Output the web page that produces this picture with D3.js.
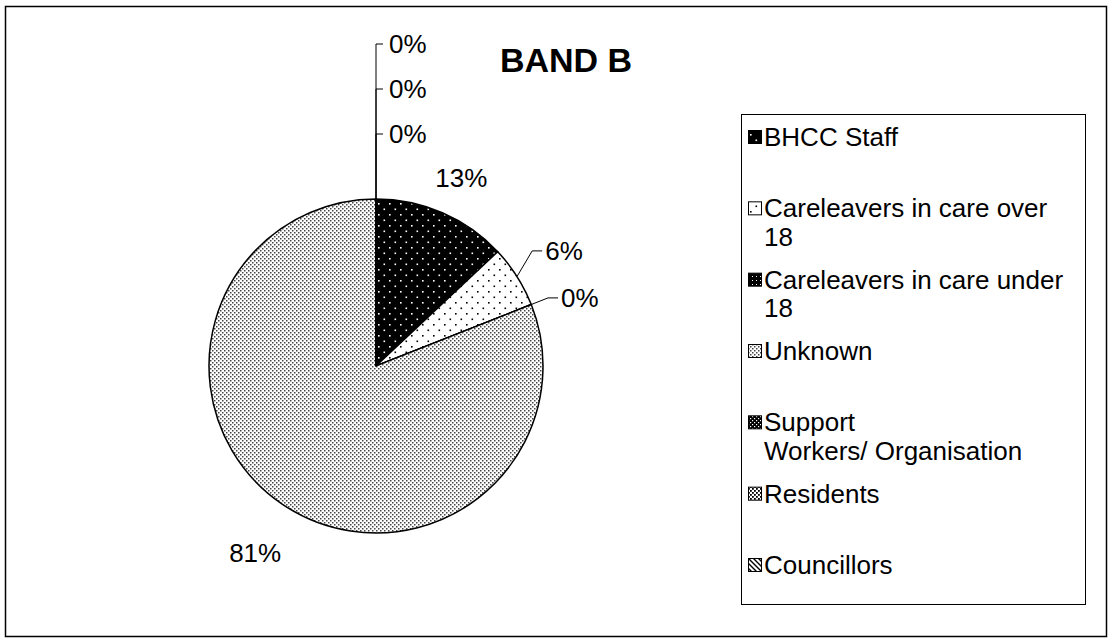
<!DOCTYPE html>
<html>
<head>
<meta charset="utf-8">
<script src="https://cdn.jsdelivr.net/npm/d3@7"></script>
<style>
  body { margin: 0; background: #fff; }
  text { font-family: "Liberation Sans", Arial, sans-serif; fill: #000; }
</style>
</head>
<body>
<div id="band-b-pie"></div>
<script>
var categories = ['BHCC Staff', 'Careleavers in care over 18', 'Careleavers in care under 18',
                  'Unknown', 'Support\nWorkers/ Organisation', 'Residents', 'Councillors'];
var percents = [13, 6, 0, 81, 0, 0, 0];
var patternIds = ['p-bhcc', 'p-over18', 'p-under18', 'p-unknown', 'p-support', 'p-residents', 'p-councillors'];
var chartTitle = 'BAND B';

var w = 1114,
    h = 644,
    cx = 376, cy = 366, r = 167;

var svg = d3.select('#band-b-pie').append('svg')
    .attr('width', w)
    .attr('height', h);

// fill patterns (black & white, like the original)
var defs = svg.append('defs');
var makePattern = function (id, size, bg, draw) {
  var p = defs.append('pattern')
      .attr('id', id)
      .attr('patternUnits', 'userSpaceOnUse')
      .attr('width', size)
      .attr('height', size);
  p.append('rect').attr('width', size).attr('height', size).attr('fill', bg);
  draw(p);
};
var dots = function (p, pts, rad, col) {
  pts.forEach(function (d) {
    p.append('rect').attr('x', d[0]).attr('y', d[1])
      .attr('width', rad).attr('height', rad).attr('fill', col);
  });
};
makePattern('p-bhcc', 11, '#000', function (p) { dots(p, [[2, 2], [7.5, 7.5]], 1.6, '#fff'); });
makePattern('p-over18', 11, '#fff', function (p) { dots(p, [[2, 2], [7.5, 7.5]], 1.6, '#000'); });
makePattern('p-under18', 4, '#000', function (p) { dots(p, [[0, 0]], 1, '#fff'); });
makePattern('p-unknown', 4, '#fff', function (p) { dots(p, [[0, 0], [2, 2]], 1.5, '#444'); });
makePattern('p-support', 4, '#000', function (p) { dots(p, [[0, 0], [2, 2]], 1.2, '#fff'); });
makePattern('p-residents', 4, '#fff', function (p) { dots(p, [[0, 0], [2, 2]], 1.8, '#000'); });
makePattern('p-councillors', 5, '#fff', function (p) {
  p.append('path').attr('d', 'M-1,-1 L6,6 M-1,4 L1,6 M4,-1 L6,1')
    .attr('stroke', '#000').attr('stroke-width', 1.4);
});

// outer frame
svg.append('rect')
  .attr('x', 5.5).attr('y', 6.5)
  .attr('width', 1101).attr('height', 630)
  .attr('fill', 'none').attr('stroke', '#000').attr('stroke-width', 1.5);

svg.append('text')
  .attr('x', 566).attr('y', 72)
  .attr('text-anchor', 'middle')
  .style('font-size', '34px')
  .style('font-weight', 'bold')
  .text(chartTitle);

// Pie
var pie = d3.pie().sort(null).value(function (d) { return d; });
var arcs = pie(percents);
var arc = d3.arc().innerRadius(0).outerRadius(r);

var g = svg.append('g').attr('transform', 'translate(' + cx + ',' + cy + ')');

g.selectAll('path.slice')
  .data(arcs)
  .enter().append('path')
  .attr('class', 'slice')
  .attr('d', arc)
  .attr('fill', function (d, i) { return 'url(#' + patternIds[i] + ')'; })
  .attr('stroke', '#000')
  .attr('stroke-width', 1.5);

var polar = function (a, rad) { return [Math.sin(a) * rad, -Math.cos(a) * rad]; };
var fmt = function (v) { return v + '%'; };
var labelFont = 26, labelGap = 47;

// big slices: plain label outside the pie
arcs.forEach(function (d, i) {
  if (percents[i] < 10) return;
  var a = (d.startAngle + d.endAngle) / 2;
  var p = polar(a, r + 48);
  g.append('text')
    .attr('x', p[0]).attr('y', p[1] + 9)
    .attr('dy', '0.35em')
    .attr('text-anchor', 'middle')
    .style('font-size', labelFont + 'px')
    .text(fmt(percents[i]));
});

// small slices on the side: leader lines, pushed apart
var sideLabels = [], topLabels = [];
arcs.forEach(function (d, i) {
  if (percents[i] >= 10) return;
  var a = (d.startAngle + d.endAngle) / 2;
  if (a < 0.01 || a > 2 * Math.PI - 0.01) topLabels.push({ i: i, a: a });
  else sideLabels.push({ i: i, a: a });
});
sideLabels.forEach(function (s) {
  s.from = polar(s.a, r);
  s.elbow = polar(s.a, r + 18);
});
for (var k = sideLabels.length - 2; k >= 0; k--) {
  if (sideLabels[k + 1].elbow[1] - sideLabels[k].elbow[1] < labelGap) {
    sideLabels[k].elbow[1] = sideLabels[k + 1].elbow[1] - labelGap;
  }
}
sideLabels.forEach(function (s) {
  g.append('path')
    .attr('d', 'M' + s.from + 'L' + s.elbow + 'h10')
    .attr('fill', 'none').attr('stroke', '#000').attr('stroke-width', 1);
  g.append('text')
    .attr('x', s.elbow[0] + 13).attr('y', s.elbow[1])
    .attr('dy', '0.35em')
    .style('font-size', labelFont + 'px')
    .text(fmt(percents[s.i]));
});

// zero slices sitting at 12 o'clock: stacked upwards
topLabels.forEach(function (s, k) {
  var y = -r - 20 - 45 * (k + 1);
  g.append('path')
    .attr('d', 'M0,' + (-r) + 'V' + y + 'h7')
    .attr('fill', 'none').attr('stroke', '#000').attr('stroke-width', 1);
  g.append('text')
    .attr('x', 13).attr('y', y)
    .attr('dy', '0.35em')
    .style('font-size', labelFont + 'px')
    .text(fmt(percents[s.i]));
});

// Legend
var lx = 741, ly = 114, lw = 344, lh = 490;
var legend = svg.append('g');
legend.append('rect')
  .attr('x', lx + 0.5).attr('y', ly + 0.5)
  .attr('width', lw).attr('height', lh)
  .attr('fill', '#fff').attr('stroke', '#000').attr('stroke-width', 1);

var rowY = d3.scalePoint().domain(d3.range(categories.length)).range([137, 565]);
var maxTextW = 306;

categories.forEach(function (name, i) {
  var y = rowY(i);
  legend.append('rect')
    .attr('x', lx + 7.5).attr('y', y - 6.5)
    .attr('width', 13).attr('height', 13)
    .attr('fill', 'url(#' + patternIds[i] + ')')
    .attr('stroke', '#000').attr('stroke-width', 1);

  var t = legend.append('text')
    .attr('x', lx + 23).attr('y', y)
    .style('font-size', labelFont + 'px');

  // wrap on explicit breaks and on width
  var lines = [];
  name.split('\n').forEach(function (part) {
    var words = part.split(' '), line = '';
    words.forEach(function (wd) {
      var test = line ? line + ' ' + wd : wd;
      t.text(test);
      if (line && t.node().getComputedTextLength() > maxTextW) {
        lines.push(line);
        line = wd;
      } else {
        line = test;
      }
    });
    lines.push(line);
  });
  t.text(null);
  lines.forEach(function (ln, j) {
    t.append('tspan')
      .attr('x', lx + 23)
      .attr('dy', j === 0 ? '0.35em' : '1.1em')
      .text(ln);
  });
});
</script>
</body>
</html>
